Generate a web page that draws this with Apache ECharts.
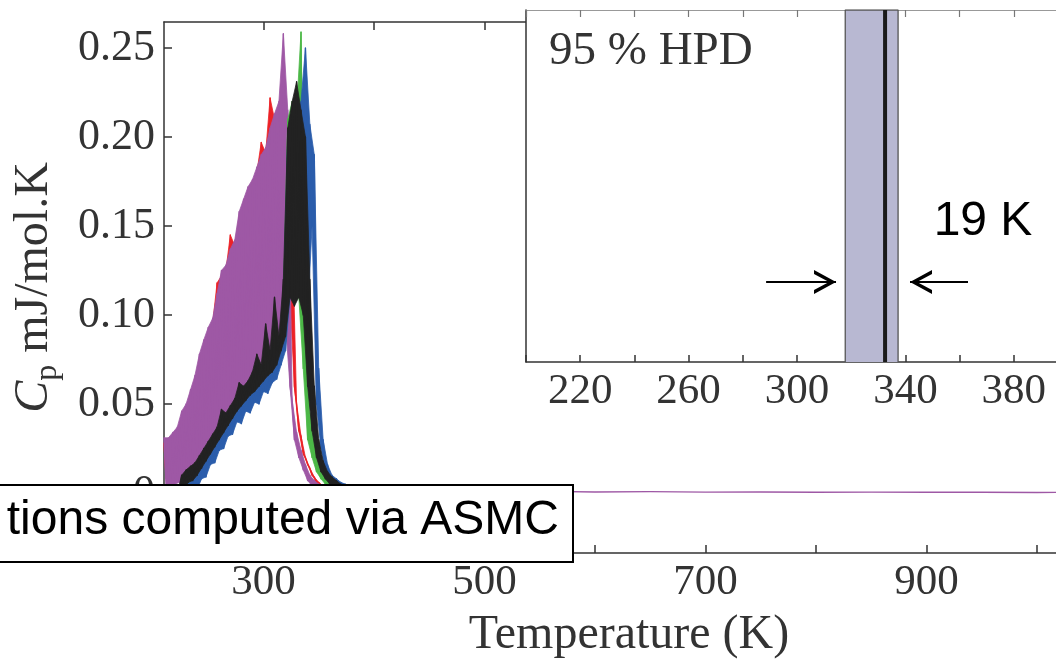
<!DOCTYPE html>
<html><head><meta charset="utf-8">
<script src="https://cdn.jsdelivr.net/npm/echarts@6/dist/echarts.min.js"></script>
<style>html,body{margin:0;padding:0;background:#fff;}#chart{width:1056px;height:659px;}</style>
</head><body><div id="chart"></div>
<script>
// ---------------- data ----------------
// Samples alternate between the upper and lower edge of each noisy Cp trace.
const temps = [
  210,212,214,216,218,220,222,224,226,228,
  230,232,234,236,238,240,242,244,246,248,
  250,252,254,256,258,260,262,264,266,268,
  270,272,274,276,278,280,282,284,286,288,
  290,292,294,296,298,300,302,304,306,308,
  310,312,314,316,318,320,322,324,326,328,
  330,332,334,336,338,340,342,344,346,348,
  350,352,354,356,358,360,362,364,366,368,
  370,372,374,376,378,380,382,384,386,388,
  390,392,394,396,398,400
];
const redCp = [
  0.028,0.008,0.028,0.008,0.031,0.010,0.034,0.012,0.043,0.016,
  0.047,0.020,0.055,0.022,0.063,0.026,0.075,0.030,0.083,0.034,
  0.090,0.038,0.095,0.042,0.118,0.046,0.122,0.050,0.125,0.054,
  0.145,0.058,0.139,0.062,0.155,0.066,0.162,0.070,0.169,0.074,
  0.173,0.078,0.180,0.082,0.197,0.086,0.191,0.090,0.222,0.094,
  0.210,0.098,0.217,0.100,0.220,0.105,0.200,0.110,0.150,0.060,
  0.050,0.035,0.032,0.022,0.020,0.016,0.014,0.010,0.009,0.006,
  0.006,0.004,0.004,0.003,0.003,0.002,0.002,0.001,0.002,0.001,
  0.001,0.000,0.001,0.000,0.001,0.000,0.001,0.000,0.001,0.000,
  0.001,0.000,0.001,0.000,0.001,0.000
];
const purpleCp = [
  0.031,0.004,0.031,0.003,0.034,0.005,0.037,0.006,0.046,0.008,
  0.050,0.010,0.058,0.012,0.066,0.016,0.078,0.019,0.086,0.023,
  0.093,0.027,0.098,0.031,0.112,0.035,0.125,0.038,0.128,0.042,
  0.137,0.046,0.142,0.049,0.158,0.052,0.165,0.055,0.172,0.058,
  0.176,0.061,0.183,0.064,0.190,0.067,0.194,0.070,0.205,0.073,
  0.213,0.077,0.220,0.082,0.258,0.095,0.215,0.060,0.052,0.030,
  0.034,0.020,0.024,0.013,0.016,0.007,0.010,0.004,0.007,0.003,
  0.005,0.002,0.004,0.001,0.003,0.001,0.002,0.000,0.002,0.000,
  0.001,0.000,0.001,0.000,0.001,0.000,0.001,0.000,0.001,0.000,
  0.001,0.000,0.001,0.000,0.001,0.000
];
const greenCp = [
  0,0,0,0,0,0,0,0,0.005,0.001,
  0.010,0.003,0.011,0.004,0.012,0.007,0.016,0.011,0.020,0.015,
  0.024,0.019,0.028,0.023,0.032,0.027,0.036,0.031,0.040,0.035,
  0.044,0.039,0.048,0.043,0.051,0.046,0.054,0.049,0.057,0.052,
  0.060,0.054,0.063,0.057,0.066,0.060,0.068,0.063,0.071,0.065,
  0.074,0.069,0.080,0.077,0.110,0.085,0.210,0.115,0.220,0.110,
  0.215,0.110,0.259,0.070,0.090,0.030,0.045,0.020,0.028,0.012,
  0.018,0.008,0.012,0.005,0.009,0.003,0.006,0.002,0.005,0.001,
  0.004,0.001,0.003,0.000,0.002,0.000,0.002,0.000,0.001,0.000,
  0.001,0.000,0.001,0.000,0.000,0.000
];
const blueCp = [
  0,0,0,0,0,0,0,0,0.003,0,
  0.005,0.000,0.006,0.000,0.010,0.002,0.014,0.008,0.018,0.009,
  0.022,0.016,0.026,0.017,0.030,0.024,0.034,0.025,0.038,0.032,
  0.042,0.033,0.046,0.040,0.049,0.039,0.052,0.046,0.055,0.045,
  0.058,0.051,0.061,0.050,0.064,0.057,0.066,0.056,0.069,0.062,
  0.072,0.064,0.082,0.072,0.110,0.080,0.200,0.110,0.210,0.110,
  0.210,0.120,0.220,0.120,0.250,0.100,0.207,0.150,0.190,0.050,
  0.070,0.025,0.030,0.012,0.016,0.007,0.010,0.004,0.008,0.003,
  0.006,0.002,0.005,0.001,0.004,0.001,0.003,0.000,0.002,0.000,
  0.001,0.000,0.001,0.000,0.001,0.000
];
const blackCp = [
  0,0,0,0,0,0,0,0,0.010,0.002,
  0.013,0.006,0.015,0.007,0.017,0.010,0.021,0.014,0.025,0.018,
  0.029,0.022,0.033,0.026,0.037,0.030,0.047,0.034,0.045,0.038,
  0.049,0.042,0.053,0.046,0.062,0.049,0.060,0.052,0.063,0.055,
  0.068,0.057,0.078,0.060,0.072,0.063,0.095,0.066,0.080,0.068,
  0.110,0.072,0.088,0.080,0.120,0.088,0.205,0.110,0.220,0.105,
  0.231,0.110,0.215,0.100,0.200,0.060,0.120,0.035,0.060,0.020,
  0.030,0.012,0.018,0.008,0.012,0.005,0.009,0.004,0.007,0.003,
  0.005,0.002,0.004,0.001,0.003,0.001,0.002,0.000,0.002,0.000,
  0.001,0.000,0.001,0.000,0.001,0.000
];
const tailTemps = [420,450,480,520,560,600,650,700,750,800,850,900,950,1000,1050,1100];
const purpleTail = [0.0010,0.0008,0.0010,0.0007,0.0009,0.0006,0.0008,0.0005,0.0006,0.0004,0.0005,0.0004,0.0004,0.0003,0.0004,0.0003];

const mainXTicks = [300,400,500,600,700,800,900,1000,1100];
const mainXTickLabels = [300,500,700,900];
const mainYTicks = [0,0.05,0.10,0.15,0.20,0.25];
const mainYTickLabels = ['0','0.05','0.10','0.15','0.20','0.25'];
const insetXTicks = [200,220,240,260,280,300,320,340,360,380,400];
const insetXTickLabels = [220,260,300,340,380];
const hpdInterval = [317.8, 337.3];
const posteriorMode = 332.5;

// ---------------- chart ----------------
const SERIF = '"Liberation Serif", "DejaVu Serif", serif';
const SANS = '"Liberation Sans", Arial, sans-serif';
const AX = '#333';
const TXT = '#333';

const pairs = vals => temps.map((t, i) => [t, vals[i]]);
const purpleData = pairs(purpleCp).concat(tailTemps.map((t, i) => [t, purpleTail[i]]));

function lineSeries(name, data, color, z) {
  return {
    name, type: 'line', xAxisIndex: 0, yAxisIndex: 0, data, z,
    symbol: 'none', showSymbol: false, animation: false, silent: true,
    lineStyle: { color, width: 1.4, join: 'round', cap: 'round' }, itemStyle: { color },
    emphasis: { disabled: true }
  };
}
// filled envelope between the upper samples (even) and lower samples (odd) of a trace
function bandSeries(name, vals, color, z) {
  return {
    name: name + ' band', type: 'custom', xAxisIndex: 0, yAxisIndex: 0, silent: true, clip: true,
    animation: false, z,
    data: [[temps[0], vals[0]]],
    renderItem: (params, api) => {
      const up = [], lo = [];
      temps.forEach((t, i) => { const p = api.coord([t, vals[i]]); (i % 2 === 0 ? up : lo).push(p); });
      return { type: 'polygon', shape: { points: up.concat(lo.reverse()) },
        style: { fill: color, stroke: color, lineWidth: 0.8 } };
    }
  };
}

const chevron = 'path://M12,0L12.1,0L12,0.1Z M0,44L12,22L24,44L20,44L12,29L4,44Z';
const arrowY = 0.227;

const traces = [
  ['red', redCp, '#ec2227'],
  ['purple', purpleCp, '#9e58a5'],
  ['green', greenCp, '#4cb847'],
  ['blue', blueCp, '#2b5dab'],
  ['black', blackCp, '#222222']
];
const cpSeriesList = [];
traces.forEach(([name, vals, color], k) => {
  cpSeriesList.push(bandSeries(name, vals, color, 2 + k));
  cpSeriesList.push(lineSeries(name, name === 'purple' ? purpleData : pairs(vals), color, 2 + k));
});

const option = {
  animation: false,
  backgroundColor: '#fff',
  grid: [
    { left: 164, top: 22, right: -91.5, bottom: 106, outerBoundsMode: 'none' },
    { left: 526, top: 10, right: -12, bottom: 297, show: true, backgroundColor: '#fff', borderWidth: 0, z: 20, outerBoundsMode: 'none' }
  ],
  xAxis: [
    { type: 'value', gridIndex: 0, min: 210, max: 1100, position: 'bottom',
      axisLine: { show: true, onZero: false, lineStyle: { color: AX, width: 1.5 } },
      axisTick: { show: true, inside: true, length: 8, customValues: mainXTicks, lineStyle: { color: AX, width: 1.5 } },
      axisLabel: { customValues: mainXTickLabels, formatter: v => String(v), fontFamily: SERIF, fontSize: 43, color: TXT, margin: 8 },
      splitLine: { show: false } },
    { type: 'value', gridIndex: 0, min: 210, max: 1100, position: 'top',
      axisLine: { show: true, onZero: false, lineStyle: { color: AX, width: 1.5 } },
      axisTick: { show: true, inside: true, length: 8, customValues: mainXTicks, lineStyle: { color: AX, width: 1.5 } },
      axisLabel: { show: false }, splitLine: { show: false } },
    { type: 'value', gridIndex: 1, min: 200, max: 400, position: 'bottom', z: 21,
      axisLine: { show: true, onZero: false, lineStyle: { color: AX, width: 1.5 } },
      axisTick: { show: true, inside: true, length: 7, customValues: insetXTicks, lineStyle: { color: AX, width: 1.5 } },
      axisLabel: { customValues: insetXTickLabels, formatter: v => String(v), fontFamily: SERIF, fontSize: 43, color: TXT, margin: 8 },
      splitLine: { show: false } },
    { type: 'value', gridIndex: 1, min: 200, max: 400, position: 'top', z: 21,
      axisLine: { show: true, onZero: false, lineStyle: { color: '#999', width: 1.2 } },
      axisTick: { show: true, inside: true, length: 7, customValues: insetXTicks, lineStyle: { color: '#777', width: 1.2 } },
      axisLabel: { show: false }, splitLine: { show: false } }
  ],
  yAxis: [
    { type: 'value', gridIndex: 0, min: -0.0337, max: 0.2646, position: 'left',
      axisLine: { show: true, onZero: false, lineStyle: { color: AX, width: 1.5 } },
      axisTick: { show: true, inside: true, length: 8, customValues: mainYTicks, lineStyle: { color: AX, width: 1.5 } },
      axisLabel: { customValues: mainYTicks, formatter: v => mainYTickLabels[mainYTicks.findIndex(t => Math.abs(t - v) < 1e-9)] || '',
        fontFamily: SERIF, fontSize: 44, color: TXT, margin: 9 },
      splitLine: { show: false },
      name: '{c|C}{p|p}{u| mJ/mol.K}', nameLocation: 'middle', nameRotate: 90, nameGap: 100,
      nameTextStyle: { fontFamily: SERIF, color: TXT, rich: {
        c: { fontFamily: SERIF, fontStyle: 'italic', fontSize: 48, lineHeight: 60, color: TXT },
        p: { fontFamily: SERIF, fontSize: 32, lineHeight: 20, verticalAlign: 'bottom', color: TXT },
        u: { fontFamily: SERIF, fontSize: 48, lineHeight: 60, color: TXT }
      } } },
    { type: 'value', gridIndex: 1, min: 0, max: 1, position: 'left', z: 21,
      axisLine: { show: true, onZero: false, lineStyle: { color: AX, width: 1.5 } },
      axisTick: { show: false }, axisLabel: { show: false }, splitLine: { show: false } }
  ],
  series: cpSeriesList.concat([
    { name: 'HPD', type: 'line', xAxisIndex: 2, yAxisIndex: 1, z: 22, silent: true,
      data: [[hpdInterval[0], 0], [hpdInterval[0], 1], [hpdInterval[1], 1], [hpdInterval[1], 0]],
      symbol: 'none', lineStyle: { color: '#555', width: 1.3 }, areaStyle: { color: '#b8b8d2', opacity: 1 } },
    { name: 'mode', type: 'line', xAxisIndex: 2, yAxisIndex: 1, z: 23, silent: true,
      data: [[posteriorMode, 0], [posteriorMode, 1]],
      symbol: 'none', lineStyle: { color: '#1a1a1a', width: 4 },
      markLine: {
        silent: true, animation: false, z: 30,
        symbol: ['none', chevron], symbolSize: [24, 44],
        lineStyle: { color: '#000', width: 2, type: 'solid' },
        label: { show: false },
        emphasis: { disabled: true },
        data: [
          [{ coord: [288.6, arrowY] }, { coord: [314.4, arrowY] }],
          [{ coord: [363.1, arrowY] }, { coord: [341.7, arrowY] }]
        ]
      } }
  ]),
  graphic: [
    { type: 'text', z: 50, style: { text: '95 % HPD', x: 549, y: 52, font: '47px ' + SERIF, fill: TXT, textAlign: 'left', align: 'left', textVerticalAlign: 'middle', verticalAlign: 'middle' } },
    { type: 'text', z: 50, style: { text: '19 K', x: 983, y: 222, font: '48px ' + SANS, fill: '#000', textAlign: 'center', align: 'center', textVerticalAlign: 'middle', verticalAlign: 'middle' } },
    { type: 'text', z: 50, style: { text: 'Temperature (K)', x: 629, y: 635, font: '48px ' + SERIF, fill: TXT, textAlign: 'center', align: 'center', textVerticalAlign: 'middle', verticalAlign: 'middle' } },
    { type: 'rect', z: 100, shape: { x: -10, y: 485, width: 583, height: 77 }, style: { fill: '#fff', stroke: '#000', lineWidth: 2 } },
    { type: 'text', z: 101, style: { text: 'tions computed via ASMC', x: 559, y: 521, font: '48px ' + SANS, fill: '#000', textAlign: 'right', align: 'right', textVerticalAlign: 'middle', verticalAlign: 'middle' } }
  ]
};

const chart = echarts.init(document.getElementById('chart'), null, { renderer: 'canvas' });
chart.setOption(option);
</script></body></html>
